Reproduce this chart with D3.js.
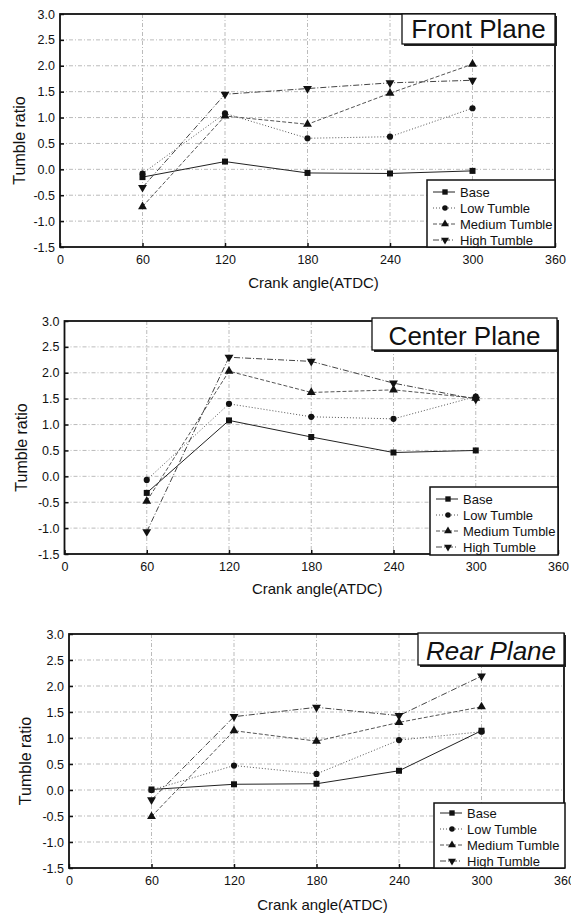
<!DOCTYPE html>
<html>
<head>
<meta charset="utf-8">
<script src="https://cdn.jsdelivr.net/npm/d3@7"></script>
<style>
  body { margin: 0; background: #fff; }
  svg { display: block; }
  text { font-family: "Liberation Sans", Arial, sans-serif; fill: #111; }
</style>
</head>
<body>
<svg id="chart" width="571" height="915"></svg>
<script>
// data
const angles = [60, 120, 180, 240, 300];
const seriesNames = ['Base', 'Low Tumble', 'Medium Tumble', 'High Tumble'];
const xTicks = [0, 60, 120, 180, 240, 300, 360];
const yTicks = [-1.5, -1.0, -0.5, 0, 0.5, 1.0, 1.5, 2.0, 2.5, 3.0];
const panelTitles = ['Front Plane', 'Center Plane', 'Rear Plane'];

const frontBase   = [-0.15, 0.15, -0.07, -0.08, -0.03];
const frontLow    = [-0.08, 1.08, 0.60, 0.63, 1.18];
const frontMedium = [-0.72, 1.03, 0.87, 1.47, 2.03];
const frontHigh   = [-0.35, 1.45, 1.56, 1.67, 1.72];

const centerBase   = [-0.32, 1.08, 0.76, 0.46, 0.50];
const centerLow    = [-0.07, 1.40, 1.15, 1.11, 1.54];
const centerMedium = [-0.48, 2.03, 1.62, 1.67, 1.51];
const centerHigh   = [-1.07, 2.30, 2.22, 1.80, 1.49];

const rearBase   = [0.01, 0.11, 0.12, 0.37, 1.14];
const rearLow    = [0.00, 0.47, 0.31, 0.96, 1.12];
const rearMedium = [-0.51, 1.14, 0.94, 1.30, 1.60];
const rearHigh   = [-0.19, 1.41, 1.59, 1.43, 2.19];

const panelData = [
  [frontBase, frontLow, frontMedium, frontHigh],
  [centerBase, centerLow, centerMedium, centerHigh],
  [rearBase, rearLow, rearMedium, rearHigh]
];

// layout (pixels) for each panel
const layouts = [
  { x0: 60, x1: 555, y0: 14, y1: 247, tb: [402, 14, 153, 30], tbBase: 38, italic: false,
    lg: [427, 180, 128, 67], lgRow0: 12, yTitleX: 19, xTitleY: 288 },
  { x0: 64.5, x1: 558, y0: 321, y1: 554, tb: [372, 318, 185, 32], tbBase: 345, italic: false,
    lg: [430, 487, 128, 68], lgRow0: 12, yTitleX: 21, xTitleY: 594 },
  { x0: 69, x1: 564, y0: 634, y1: 868, tb: [418, 633, 146, 32], tbBase: 660, italic: true,
    lg: [434, 803, 131, 65], lgRow0: 10, yTitleX: 25.5, xTitleY: 910 }
];

const styles = [
  { dash: null, color: '#222', marker: d3.symbolSquare, size: 36 },
  { dash: '1,2', color: '#555', marker: d3.symbolCircle, size: 30 },
  { dash: '4,2', color: '#555', marker: d3.symbolTriangle, size: 34 },
  { dash: '6,2,1,2', color: '#444', marker: d3.symbolTriangle, size: 34, flip: true }
];

const svg = d3.select('#chart');

layouts.forEach((L, p) => {
  const g = svg.append('g');
  const x = d3.scaleLinear().domain([0, 360]).range([L.x0, L.x1]);
  const y = d3.scaleLinear().domain([-1.5, 3.0]).range([L.y1, L.y0]);

  // grid
  g.append('g').selectAll('line').data(xTicks.slice(1, -1)).join('line')
    .attr('x1', d => x(d)).attr('x2', d => x(d))
    .attr('y1', L.y0).attr('y2', L.y1)
    .attr('stroke', '#aaa').attr('stroke-width', 0.8).attr('stroke-dasharray', '4,2,1,2');
  g.append('g').selectAll('line').data(yTicks.slice(1, -1)).join('line')
    .attr('x1', L.x0).attr('x2', L.x1)
    .attr('y1', d => y(d)).attr('y2', d => y(d))
    .attr('stroke', '#aaa').attr('stroke-width', 0.8).attr('stroke-dasharray', '4,2,1,2');

  // axes
  const xAxis = g.append('g').attr('transform', `translate(0,${L.y1})`)
    .call(d3.axisBottom(x).tickValues(xTicks).tickSizeInner(-4).tickSizeOuter(0).tickPadding(8));
  const yAxis = g.append('g').attr('transform', `translate(${L.x0},0)`)
    .call(d3.axisLeft(y).tickValues(yTicks).tickFormat(d => d.toFixed(1))
      .tickSizeInner(-4).tickSizeOuter(0).tickPadding(5));
  [xAxis, yAxis].forEach(a => {
    a.select('.domain').remove();
    a.selectAll('.tick line').attr('stroke', '#111').attr('stroke-width', 1.5);
    a.selectAll('.tick text').attr('font-size', 12.5).attr('fill', '#111')
      .style('font-family', '"Liberation Sans", Arial, sans-serif');
  });

  // frame
  g.append('rect')
    .attr('x', L.x0).attr('y', L.y0)
    .attr('width', L.x1 - L.x0).attr('height', L.y1 - L.y0)
    .attr('fill', 'none').attr('stroke', '#111').attr('stroke-width', 1.8);

  // series
  const line = d3.line().x((d, i) => x(angles[i])).y(d => y(d));
  panelData[p].forEach((vals, s) => {
    const st = styles[s];
    g.append('path').datum(vals)
      .attr('d', line)
      .attr('fill', 'none').attr('stroke', st.color).attr('stroke-width', 1)
      .attr('stroke-dasharray', st.dash);
    g.append('g').selectAll('path').data(vals).join('path')
      .attr('d', d3.symbol().type(st.marker).size(st.size))
      .attr('transform', (d, i) => `translate(${x(angles[i])},${y(d)})${st.flip ? ' rotate(180)' : ''}`)
      .attr('fill', '#111');
  });

  // title box
  const [tx, ty, tw, th] = L.tb;
  g.append('rect').attr('x', tx + 2).attr('y', ty + 2).attr('width', tw).attr('height', th)
    .attr('fill', '#222');
  g.append('rect').attr('x', tx).attr('y', ty).attr('width', tw).attr('height', th)
    .attr('fill', '#fff').attr('stroke', '#111').attr('stroke-width', 1.3);
  g.append('text')
    .attr('x', tx + tw / 2).attr('y', L.tbBase)
    .attr('text-anchor', 'middle')
    .attr('font-size', 26)
    .attr('font-style', L.italic ? 'italic' : 'normal')
    .text(panelTitles[p]);

  // legend
  const [lx, ly, lw, lh] = L.lg;
  g.append('rect').attr('x', lx).attr('y', ly).attr('width', lw).attr('height', lh)
    .attr('fill', '#fff').attr('stroke', '#111').attr('stroke-width', 1.5);
  seriesNames.forEach((name, s) => {
    const st = styles[s];
    const cy = ly + L.lgRow0 + s * 16;
    g.append('line')
      .attr('x1', lx + 6).attr('x2', lx + 28).attr('y1', cy).attr('y2', cy)
      .attr('stroke', st.color).attr('stroke-width', 1).attr('stroke-dasharray', st.dash);
    g.append('path')
      .attr('d', d3.symbol().type(st.marker).size(st.size * 0.8))
      .attr('transform', `translate(${lx + 18},${cy})${st.flip ? ' rotate(180)' : ''}`)
      .attr('fill', '#111');
    g.append('text')
      .attr('x', lx + 33).attr('y', cy + 4.5)
      .attr('font-size', 13)
      .text(name);
  });

  // axis titles
  g.append('text')
    .attr('transform', `translate(${L.yTitleX},${(L.y0 + L.y1) / 2 + 10}) rotate(-90)`)
    .attr('text-anchor', 'middle').attr('dominant-baseline', 'central')
    .attr('font-size', 16)
    .text('Tumble ratio');
  g.append('text')
    .attr('x', (L.x0 + L.x1) / 2 + 6).attr('y', L.xTitleY)
    .attr('text-anchor', 'middle')
    .attr('font-size', 15)
    .text('Crank angle(ATDC)');
});
</script>
</body>
</html>
